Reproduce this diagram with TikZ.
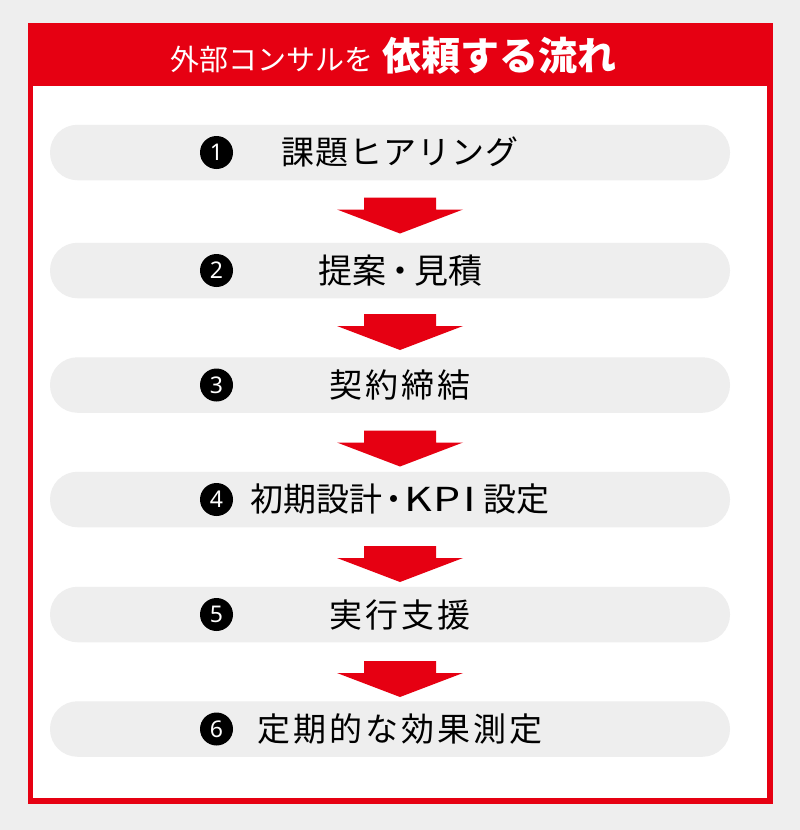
\documentclass[tikz,border=0pt]{standalone}
\usepackage{fontspec}
\usepackage{graphicx}
\newfontfamily\jp{Noto Sans CJK JP}
\newfontfamily\numf{Noto Sans}
\definecolor{bgc}{HTML}{EEEEEE}
\definecolor{redc}{HTML}{E60012}
\definecolor{pillc}{HTML}{EEEEEE}
\newcommand\myga{\kern1pt }
\newcommand\mygb{\kern3pt }
\newcommand\stA{課\myga 題\myga ヒ\myga ア\myga リ\myga ン\myga グ}
\newcommand\stB{\fontsize{34pt}{34pt}\selectfont 提案\makebox[28pt][c]{・}見積}
\newcommand\stC{契\mygb 約\mygb 締\mygb 結}
\newcommand\stD{初期設計\makebox[22pt][c]{・}\scalebox{1.3}[1]{K\kern1pt P\kern2pt I}\kern7pt 設定}
\newcommand\stE{実\mygb 行\mygb 支\mygb 援}
\newcommand\stF{定\mygb 期\mygb 的\mygb な\mygb 効\mygb 果\mygb 測\mygb 定}
\tikzset{
  pillbox/.style={fill=pillc, rounded corners=27.5pt, minimum width=680pt, minimum height=55.5pt, inner sep=0pt},
  numdot/.style={circle, fill=black, text=white, minimum size=33pt, inner sep=0pt, font=\numf\bfseries\fontsize{23pt}{23pt}\selectfont},
  steptext/.style={font=\jp\fontsize{33pt}{33pt}\selectfont, text=black, inner sep=0pt, anchor=center},
  downarrow/.style={fill=redc},
}
\begin{document}
\begin{tikzpicture}[x=1pt,y=-1pt]
\useasboundingbox (0,0) rectangle (800,830);
\fill[bgc] (0,0) rectangle (800,830);
% frame
\fill[redc] (27.5,23.3) rectangle (772.5,804);
\fill[white] (32.8,86) rectangle (767.2,798.3);
% title
\node[text=white, inner sep=0pt, anchor=center] (title) at (393,55.5)
  {\jp\fontsize{29pt}{29pt}\selectfont 外部コンサルを\hspace{9pt}{\jp\bfseries\fontsize{39pt}{39pt}\selectfont 依頼する流れ}};
% pills
\foreach \i/\y/\t in {1/152.5/\stA, 2/270.5/\stB, 3/385/\stC, 4/499.5/\stD, 5/614.5/\stE, 6/729/\stF}{
  \node[pillbox] (p\i) at (390,\y) {};
  \node[numdot] (n\i) at (216.5,\y) {\i};
  \node[steptext] (t\i) at (400,\y) {\t};
}
% arrows
\foreach \a/\y in {1/197.5,2/314,3/430.5,4/546,5/661}{
  \coordinate (ar\a) at (400,\y);
  \fill[downarrow] ([xshift=-36pt]ar\a) -- ([xshift=36pt]ar\a) -- ([xshift=36pt,yshift=-12pt]ar\a) -- ([xshift=63pt,yshift=-12pt]ar\a)
     -- ([yshift=-36pt]ar\a) -- ([xshift=-63pt,yshift=-12pt]ar\a) -- ([xshift=-36pt,yshift=-12pt]ar\a) -- cycle;
}
\end{tikzpicture}
\end{document}
